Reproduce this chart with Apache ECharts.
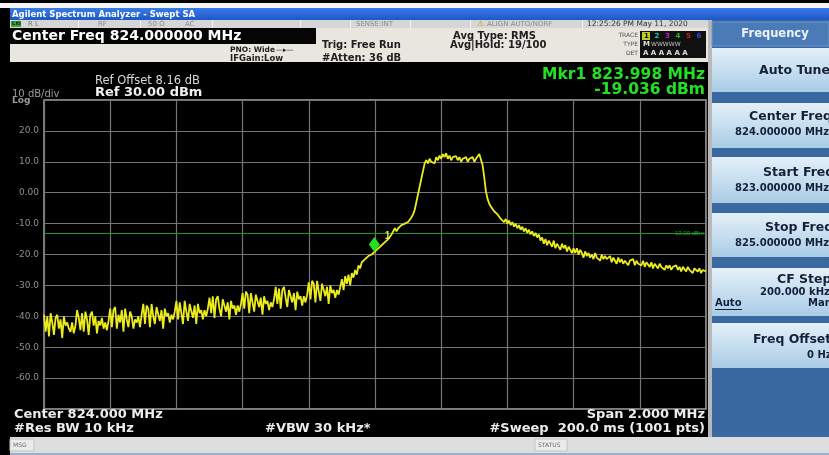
<!DOCTYPE html>
<html><head><meta charset="utf-8">
<script src="https://cdn.jsdelivr.net/npm/echarts@6/dist/echarts.min.js"></script>
<style>html,body{margin:0;padding:0;background:#000;overflow:hidden}#c{width:829px;height:455px}</style>
</head><body><div id="c"></div>
<script>
// ---- data ----
const startFreqMHz = 823.0;
const stopFreqMHz = 825.0;
const freqDivMHz = 0.2;
const refLevelDbm = 30;
const bottomLevelDbm = -70;
const dbPerDiv = 10;
const yTickValues = [20, 10, 0, -10, -20, -30, -40, -50, -60];
const yTickLabels = ['20.0', '10.0', '0.00', '-10.0', '-20.0', '-30.0', '-40.0', '-50.0', '-60.0'];
const displayLineDbm = -13.0;
const marker1FreqMHz = 823.998;
const marker1LevelDbm = -19.036;
// trace values (dBm), 401 samples across the 2 MHz span
const traceDbm = [
 -39.5,-45,-40,-46.5,-39,-42,-46,-40.5,-39.5,-44,-41,-47,-40,-43,-42,-44,-45,-42,-45.5,-43,
 -38,-40.5,-44.5,-39,-45,-38.5,-41,-46,-39.5,-38.5,-43,-40,-45.5,-41.5,-43,-40.5,-44,-42,-44.5,-41.5,
 -37.5,-43.5,-38,-37,-44,-39.5,-42,-38,-45,-37.5,-41,-43.5,-38.5,-40,-44,-41,-42,-40,-43.5,-39.5,
 -36,-42.5,-36.5,-37.5,-43.5,-36,-40,-42.5,-37,-36.5,-41.5,-38,-44,-37.5,-40,-39,-42,-39.5,-41,-38.5,
 -35,-41,-35.5,-36,-42.5,-35,-38.5,-41.5,-36,-35.5,-40.5,-36.5,-42.5,-36,-39,-38,-41,-38,-40,-37.5,
 -34,-39,-33.5,-40.5,-34.5,-33.5,-37.5,-40,-34.5,-34,-38.5,-35.5,-41,-35,-37.5,-36.5,-39.5,-36.5,-38.5,-36,
 -32.5,-37.5,-32,-33,-39,-32.5,-35.5,-38.5,-33,-32.5,-37,-34,-39.5,-33.5,-36,-35,-38,-35.5,-37,-34.5,
 -30.5,-36,-31,-37.5,-31.5,-30.5,-34,-37,-31.5,-31,-35.5,-32.5,-38,-32,-34.5,-33.5,-36.5,-33.5,-35.5,-33,
 -29,-34.5,-28.5,-29.5,-35.5,-28.5,-32,-35,-29.5,-29,-33.5,-30.5,-36,-30,-32.5,-31.5,-34,-31.5,-33,-30.5,
 -28,-31.5,-27,-29.5,-26.5,-30,-26,-27.5,-25,-26.5,-23.5,-24.5,-22.5,-23,-21.5,-22,-20.5,-21,-20,-19.5,
 -19,
 -18.5,-18,-17.5,-17,-16.5,-16,-15.5,-15,-14.5,-13.5,
 -13,-11.5,-12.5,-11.5,-11,-10.5,-11,-10,-10.5,-9.5,
 -9,-8,-7,-5.5,-3,-0.5,2,4.5,7,9.5,
 10.5,9.5,11,10,10.5,9.5,11.5,10.5,12,11,
 12.5,11.5,12.8,11,12,10.5,11.5,11,11.8,10.5,
 11.5,10,11,10.5,11.5,10,11,10.5,11.5,10,
 11,11.5,12.5,12,
 9,5,0.5,-2,-3.5,-4.5,-4,-6,-5.5,-7,
 -6.5,-8.5,-8,-9.5,-8.5,-10,-9,-10.5,-9.5,-11,
 -10,-11.5,-10.5,-12,-11,-12.5,-11.5,-13,-12,-13.5,
 -12.5,-14,-13,-14.5,-13.5,-15.5,
 -14.5,-16.5,-15,-17,-15.5,-16,-17.5,-15.5,-18,-16.5,-17,-18.5,-16.5,-18,-17,-19,-17.5,-18.5,-19.5,-18,
 -19.5,-18,-20,-18.5,-19.5,-21,-19,-20.5,-19.5,-21,-20,-21.5,-19.5,-21,-20.5,-22,-20,-21.5,-20.5,-21.5,
 -22,-20.5,-22.5,-21,-21.5,-23,-21,-22.5,-21.5,-23,-22,-21.5,-23.5,-22,-22.5,-21.5,-23.5,-22,-23,-22.5,
 -23.5,-22,-24,-22.5,-23,-24,-22.5,-24.5,-23,-23.5,-24.5,-23,-24,-23.5,-25,-23.5,-24.5,-23.5,-25,-24,
 -24.5,-23.5,-25,-24,-25.5,-24,-24.5,-25.5,-24,-25,-24.5,-26,-24.5,-25,-25.5,-24.5,-26,-25,-24.5,-25.5
];
const softkeys = [
  {title:'Auto Tune', value:''},
  {title:'Center Freq', value:'824.000000 MHz'},
  {title:'Start Freq', value:'823.000000 MHz'},
  {title:'Stop Freq', value:'825.000000 MHz'},
  {title:'CF Step', value:'200.000 kHz'},
  {title:'Freq Offset', value:'0 Hz'}
];

// ---- build ----
const nPts = traceDbm.length;
const traceData = traceDbm.map((v, i) => [startFreqMHz + (stopFreqMHz - startFreqMHz) * i / (nPts - 1), v]);
const FONT = '"DejaVu Sans", Verdana, sans-serif';
const G = [];
function R(x, y, w, h, fill, stroke) {
  G.push({type:'rect', z:-10, silent:true, shape:{x:x, y:y, width:w, height:h},
    style:{fill:fill, stroke:stroke || null, lineWidth:stroke ? 1 : 0}});
}
function T(x, y, text, o) {
  o = o || {};
  G.push({type:'text', z:50, silent:true, x:x, y:y,
    style:{text:text, fill:o.c || '#fff', font:(o.b ? 'bold ' : '') + (o.s || 10) + 'px ' + FONT,
      textAlign:o.a || 'left', textVerticalAlign:'middle', verticalAlign:'middle'}});
}
const grad = (c1, c2) => new echarts.graphic.LinearGradient(0, 0, 0, 1, [{offset:0, color:c1}, {offset:1, color:c2}]);

// top white strip + title bar
R(0, 3, 829, 5, '#f4f4f4');
R(10, 8, 819, 12, grad('#3a7be6', '#1c58c8'));
T(12, 14.5, 'Agilent Spectrum Analyzer - Swept SA', {b:true, s:8.5, c:'#ffffff'});
// status row
R(10, 20, 700, 8, '#d6d6d6');
[78, 140, 212, 300, 350, 410, 470, 582].forEach(x => R(x, 20, 1, 8, '#f2f2f2'));
R(11, 21, 10, 6, '#3aa43a');
T(12, 24, 'LXI', {s:5, b:true, c:'#102010'});
T(28, 24, 'R L', {s:7, c:'#7a7a7a'});
T(98, 24, 'RF', {s:7, c:'#8a8a8a'});
T(148, 24, '50 Ω', {s:7, c:'#8a8a8a'});
T(185, 24, 'AC', {s:7, c:'#8a8a8a'});
T(356, 24, 'SENSE:INT', {s:7, c:'#8a8a8a'});
T(477, 24, '⚠', {s:8, c:'#c8a000'});
T(487, 24, 'ALIGN AUTO/NORF', {s:7, c:'#8a8a8a'});
T(587, 24, '12:25:26 PM May 11, 2020', {s:7.5, c:'#333'});
// beige settings area
R(10, 28, 700, 34, '#e8e6de');
R(10, 28, 306, 16, '#050505');
T(12, 36.5, 'Center Freq 824.000000 MHz', {b:true, s:14, c:'#ffffff'});
T(230, 50, 'PNO: Wide', {b:true, s:7.5, c:'#202020'});
T(276, 50, '—▸—', {s:7, c:'#202020'});
T(230, 59, 'IFGain:Low', {b:true, s:8.5, c:'#202020'});
T(322, 45, 'Trig: Free Run', {b:true, s:10, c:'#202020'});
T(322, 58, '#Atten: 36 dB', {b:true, s:10, c:'#202020'});
T(453, 36, 'Avg Type: RMS', {b:true, s:10, c:'#202020'});
T(450, 45, 'Avg|Hold: 19/100', {b:true, s:10, c:'#202020'});
T(638, 35, 'TRACE', {s:6, c:'#505050', a:'right'});
T(638, 44, 'TYPE', {s:6, c:'#505050', a:'right'});
T(638, 53, 'DET', {s:6, c:'#505050', a:'right'});
R(640, 31, 66, 27, '#101010');
R(642, 32, 8, 8, '#b8d020');
const trC = ['#101010', '#20c0c0', '#c020c0', '#20c020', '#d02020', '#4040e0'];
['1','2','3','4','5','6'].forEach((d, i) => T(644 + i * 10.5, 36, d, {b:true, s:7, c:trC[i]}));
T(643, 44, 'M', {b:true, s:7, c:'#e0e0e0'});
T(651, 44, 'WWWWW', {s:6, c:'#c0c0c0'});
T(643, 53, 'A A A A A A', {b:true, s:7, c:'#e0e0e0'});
// annotations in display
T(95, 81, 'Ref Offset 8.16 dB', {s:11.5, c:'#d8d8d8'});
T(95, 92.5, 'Ref 30.00 dBm', {b:true, s:13, c:'#f0f0f0'});
T(12, 94.5, '10 dB/div', {s:10, c:'#9a9a9a'});
T(12, 100.5, 'Log', {b:true, s:9, c:'#9a9a9a'});
T(705, 75, 'Mkr1 823.998 MHz', {b:true, s:15.5, c:'#22e022', a:'right'});
T(705, 89.5, '-19.036 dBm', {b:true, s:15.5, c:'#22e022', a:'right'});
T(14, 415, 'Center 824.000 MHz', {b:true, s:13, c:'#ececec'});
T(14, 429, '#Res BW 10 kHz', {b:true, s:13, c:'#ececec'});
T(265, 429, '#VBW 30 kHz*', {b:true, s:13, c:'#ececec'});
T(705, 415, 'Span 2.000 MHz', {b:true, s:13, c:'#ececec', a:'right'});
T(705, 429, '#Sweep  200.0 ms (1001 pts)', {b:true, s:13, c:'#ececec', a:'right'});
// separator and right panel
R(708, 20, 4, 417, '#b8b8b8');
R(712, 20, 117, 417, '#3a69a2');
R(712, 22, 117, 24, '#4a7bb6', '#6f9acb');
T(775, 34, 'Frequency', {b:true, s:11.5, c:'#f0f4fa', a:'center'});
const keyBoxes = [[48, 44], [103, 45], [157, 46], [213, 44], [268, 48], [323, 45]];
const keyTitleY = [71, 117, 173, 228, 280, 340];
const keyTitleX = [759, 749, 763, 765, 777, 753];
const keyValX = [0, 735, 735, 735, 760, 807];
keyBoxes.forEach((b, i) => {
  R(712, b[0], 117, b[1], grad('#e4f0f9', '#a9cce6'));
  T(keyTitleX[i], keyTitleY[i], softkeys[i].title, {b:true, s:12.5, c:'#15213a'});
  if (softkeys[i].value) T(keyValX[i], keyTitleY[i] + (i === 4 ? 12 : 15), softkeys[i].value, {b:true, s:10, c:'#15213a'});
});
T(715, 303, 'Auto', {b:true, s:10, c:'#15213a'});
R(715, 309, 27, 1, '#15213a');
T(808, 303, 'Man', {b:true, s:10, c:'#15213a'});
// bottom bar
R(10, 437, 819, 16, '#dedede');
R(10, 439, 24, 12, '#ebebeb', '#c4c4c4');
T(13, 445, 'MSG', {s:6, c:'#6a6a6a'});
R(535, 439, 32, 12, '#ebebeb', '#c4c4c4');
T(538, 445, 'STATUS', {s:6, c:'#6a6a6a'});
R(10, 453, 819, 2, '#9ab0cc');

const chart = echarts.init(document.getElementById('c'), null, {renderer:'canvas'});
chart.setOption({
  backgroundColor:'#000',
  animation:false,
  grid:{left:44, right:123, top:100, bottom:46, show:true, borderColor:'#a8a8a8', borderWidth:1.5, backgroundColor:'#000'},
  xAxis:{type:'value', min:startFreqMHz, max:stopFreqMHz, interval:freqDivMHz,
    axisLabel:{show:false}, axisTick:{show:false}, axisLine:{show:false},
    splitLine:{lineStyle:{color:'#747474', width:1.2}}},
  yAxis:{type:'value', min:bottomLevelDbm, max:refLevelDbm, interval:dbPerDiv,
    axisTick:{show:false}, axisLine:{show:false},
    axisLabel:{color:'#8e8e8e', fontSize:9, fontFamily:FONT, margin:5,
      formatter: v => { const k = yTickValues.indexOf(Math.round(v)); return k >= 0 ? yTickLabels[k] : ''; }},
    splitLine:{lineStyle:{color:'#747474', width:1.2}}},
  series:[{
    type:'line', data:traceData, showSymbol:false, z:5,
    lineStyle:{color:'#ecec1c', width:1.8},
    markLine:{silent:true, symbol:'none', z:3,
      lineStyle:{color:'#1e9a1e', type:'solid', width:1},
      label:{show:true, position:'insideEnd', formatter:'-13.00 dBm', color:'#23a823', fontSize:6, distance:[2, -3]},
      data:[{yAxis:displayLineDbm}]},
    markPoint:{silent:true, z:6,
      symbol:'diamond', symbolSize:[11, 15], symbolOffset:[0, -7],
      itemStyle:{color:'#22e022'},
      label:{show:true, formatter:'1', position:'right', offset:[0, -8], color:'#e6e650', fontSize:10, fontWeight:'bold'},
      data:[{coord:[marker1FreqMHz, marker1LevelDbm]}]}
  }],
  graphic:{elements:G}
});
</script>
</body></html>
